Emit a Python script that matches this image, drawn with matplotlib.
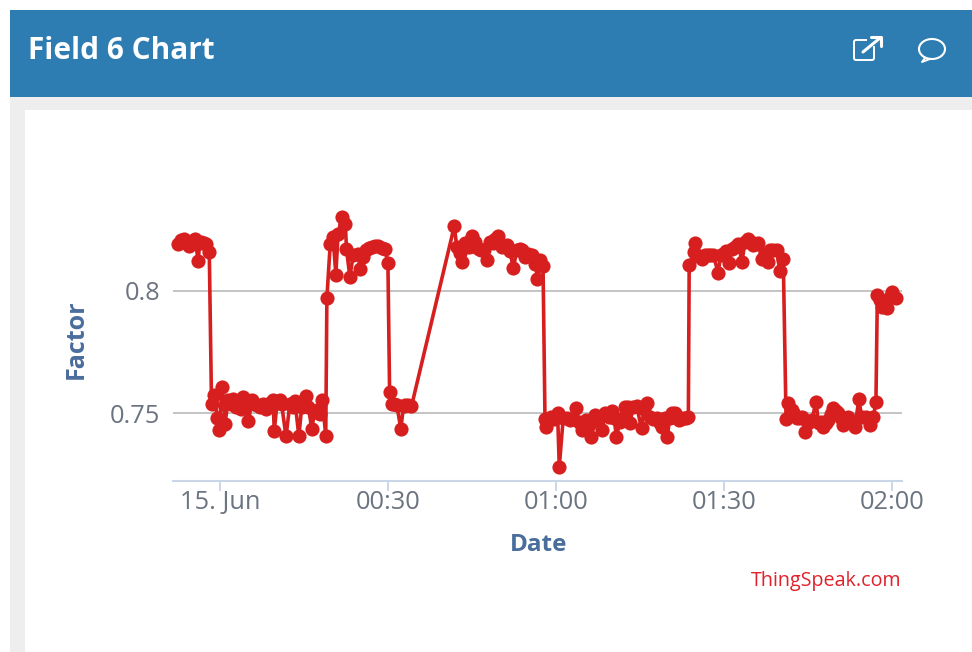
import matplotlib
matplotlib.use("Agg")
import matplotlib.pyplot as plt
from matplotlib.patches import Rectangle, FancyBboxPatch, Ellipse

# minutes after midnight, 15 Jun
minutes = [-7.5, -7.0, -6.6, -6.1, -5.7, -5.2, -4.8, -4.5, -4.0, -3.7, -3.4, -3.0, -2.6, -2.0,
           -1.6, -1.1, -0.6, -0.3, 0.3, 0.8, 1.4, 1.9, 2.3, 2.8, 3.2, 3.6, 4.0, 4.4, 5.0, 5.6, 6.0, 6.5, 7.0, 7.6,
           8.2, 8.8, 9.4, 9.6, 10.1, 10.6, 10.9, 11.7, 12.4, 12.9, 13.3, 14.0, 14.5, 14.9, 15.3, 15.7, 16.3,
           16.8, 17.2, 17.7, 18.2, 18.8,
           19.0, 19.6, 20.1, 20.6, 21.0, 21.7, 22.3, 22.5, 23.1, 23.7, 24.6, 24.9, 25.5, 26.0, 26.5, 27.0, 27.6,
           28.2, 28.8, 29.4, 29.9,
           30.2, 30.6, 31.0, 31.5, 32.2, 32.7, 33.0, 33.5, 34.1,
           41.75, 42.2, 42.7, 43.1, 43.7, 44.3, 44.7, 45.0, 45.4, 45.7, 46.2, 46.6, 47.1, 47.6, 48.1, 48.6, 49.1,
           49.6, 50.2, 50.7, 51.1, 51.7, 52.3, 52.9, 53.4, 53.8, 54.4, 55.0, 55.6, 56.2, 56.6, 57.1, 57.6,
           57.95, 58.2, 58.7, 59.1, 59.6, 60.2, 60.5, 61.2, 61.8, 62.4, 63.0, 63.5, 64.0, 64.5, 64.9, 65.3, 65.8,
           66.2, 66.9, 67.5, 68.1, 68.7, 69.3, 69.85, 70.3, 70.7, 71.3, 71.8, 72.2, 72.7, 73.1, 73.7, 74.3, 75.2,
           75.6, 76.1, 76.7, 77.3, 77.9, 78.4, 78.8, 79.3, 79.8, 80.2, 80.6, 81.2, 81.9, 82.3, 82.65, 83.1, 83.55,
           83.7, 84.55, 84.7, 85.3, 85.9, 86.5, 87.1, 87.5, 88.0, 88.9, 89.3, 89.8, 90.3, 90.8, 91.4, 91.9, 92.5,
           93.1, 93.7, 94.25, 94.7, 95.15, 95.6, 96.05, 96.65, 97.2, 97.8, 98.1, 98.7, 99.3, 99.9, 100.5,
           101.0, 101.4, 102.0, 102.5, 102.9, 103.4, 103.8, 104.4, 105.0, 105.6, 106.35, 106.8, 107.2, 107.65,
           108.1, 108.55, 109.0, 109.45, 109.9, 110.3, 110.8, 111.2, 111.7, 112.1, 112.7, 113.3, 114.0, 114.5,
           115.2, 116.0, 116.6, 117.05, 117.3, 117.7, 118.1, 118.6, 119.0, 119.5, 119.85, 120.6]
factor = [.819, .8205, .821, .8195, .818, .82, .8205, .821, .812, .8195, .82, .8195, .819, .8156,
          .7535, .7575, .748, .743, .7606, .7457, .7552, .7535, .7558, .7525, .7538, .7515, .7565, .7525, .7466, .7552, .7535, .7531, .7525, .7538,
          .7518, .754, .7552, .7427, .754, .7554, .7538, .7405, .7538, .7525, .7549, .7405, .7524, .7535, .7568, .7524, .7436,
          .7505, .7511, .7495, .7554, .7405,
          .797, .819, .8217, .8065, .8231, .8302, .8272, .817, .8057, .8143, .815, .8088, .8136, .8165, .8175, .8177, .818,
          .818, .8175, .817, .8111,
          .7586, .7538, .7535, .7531, .7436, .753, .7531, .7532, .7527,
          .8262, .8178, .8155, .8117, .8192, .8178, .8205, .8221, .82, .8178, .817, .8164, .8165, .8126, .8198, .8195, .821,
          .8221, .8178, .818, .8185, .816, .809, .8164, .817, .8167, .8137, .815, .8144, .811, .8049, .8125, .8099,
          .7476, .7445, .747, .7485, .7475, .7499, .7281, .7478, .748, .7472, .7475, .7519, .7465, .7431, .746, .7472, .745,
          .7401, .7492, .747, .7431, .7499, .7485, .751, .748, .7401, .7465, .748, .7526, .7525, .7458, .7525, .7529, .7437,
          .7515, .754, .7485, .7475, .7478, .746, .7444, .748, .7401, .748, .7499, .7501, .7471, .7475, .7478, .748, .7485,
          .8103, .8158, .8192, .814, .813, .8145, .8144, .8145, .8144, .8072, .8145, .8151, .816, .8113, .817, .8178, .819,
          .8117, .82, .8212, .82, .8185, .819, .8192, .813, .815, .8117, .8164, .8165, .8164, .8079, .813,
          .7474, .7542, .7512, .7495, .7478, .748, .7485, .7424, .7458, .7471, .7546, .7458, .7465, .7444,
          .746, .7471, .7495, .7519, .751, .7499, .748, .7451, .748, .7485, .7465, .7444, .7556, .7485,
          .7485, .7451, .7485, .7545, .7981, .796, .7933, .7945, .7927, .7975, .7995, .7971]

x_ticks = [0, 30, 60, 90, 120]
x_tick_labels = ["15. Jun", "00:30", "01:00", "01:30", "02:00"]
y_ticks = [0.75, 0.8]
y_tick_labels = ["0.75", "0.8"]

W, H = 972, 652
fig = plt.figure(figsize=(W / 100, H / 100), dpi=100, facecolor="white")

# page furniture, in pixel coordinates
bg = fig.add_axes([0, 0, 1, 1], zorder=0)
bg.set_xlim(0, W)
bg.set_ylim(H, 0)
bg.axis("off")
bg.add_patch(Rectangle((10, 97), W, H, color="#eeeeee", lw=0))
bg.add_patch(Rectangle((25, 110), W, H, color="white", lw=0))
bg.add_patch(Rectangle((10, 10), W, 87, color="#2e7db2", lw=0))
bg.text(28, 51, "Field 6 Chart", color="white", fontsize=21.4, fontweight="bold",
        family="Open Sans", va="center", ha="left")

# open-in-new icon
bg.add_patch(FancyBboxPatch((854, 40), 20, 20, boxstyle="round,pad=0,rounding_size=2",
                            fc="none", ec="white", lw=1.4))
bg.add_patch(Rectangle((867, 35), 18, 11, color="#2e7db2", lw=0))
bg.plot([863, 880], [52, 38], color="white", lw=2.2, solid_capstyle="round")
bg.plot([871, 881, 881], [37, 37, 46], color="white", lw=2.2, solid_capstyle="round")
# comment icon
bg.add_patch(Ellipse((932, 49), 26, 20, fc="none", ec="white", lw=1.5))
bg.plot([925, 922, 930], [58, 62, 59], color="white", lw=1.4)

# chart
left, right, top, bottom = 173, 901.7, 130, 480.7
ax = fig.add_axes([left / W, 1 - bottom / H, (right - left) / W, (bottom - top) / H], zorder=1)
ax.patch.set_alpha(0)
ax.set_xlim(-8.48, 121.65)
ax.set_ylim(0.7224, 0.8655)
ax.plot(minutes, factor, color="#d71f1f", lw=2.6, marker="o", ms=10.2, mew=0, clip_on=False, zorder=3)

for s in ("top", "left", "right"):
    ax.spines[s].set_visible(False)
ax.spines["bottom"].set_color("#c8d6e8")
ax.spines["bottom"].set_linewidth(1.5)

ax.set_yticks(y_ticks)
ax.set_yticklabels(y_tick_labels, family="Open Sans", fontsize=18.3, color="#6b7480")
ax.tick_params(axis="y", length=0, pad=9)
ax.grid(axis="y", color="#bfbfbf", lw=1.3)
ax.set_axisbelow(True)

ax.set_xticks(x_ticks)
ax.set_xticklabels(x_tick_labels, family="Open Sans", fontsize=18.3, color="#6b7480")
ax.tick_params(axis="x", length=7, width=1.3, color="#c8d6e8", pad=0)

# last label is cut off at the edge of the chart frame
clip = Rectangle((0, 0), 923, H, transform=bg.transData)
for lab in ax.get_xticklabels():
    lab.set_clip_path(clip)
    lab.set_clip_on(True)

bg.text(539, 545, "Date", color="#4a6d9c", fontsize=17.5, fontweight="bold",
        family="Open Sans", ha="center", va="center")
bg.text(76, 339, "Factor", color="#4a6d9c", fontsize=18, fontweight="bold",
        family="Open Sans", ha="center", va="center", rotation=90)
bg.text(901, 581, "ThingSpeak.com", color="#e0222c", fontsize=14.2,
        family="Open Sans", ha="right", va="center")

fig.savefig("out.png", dpi=100)
